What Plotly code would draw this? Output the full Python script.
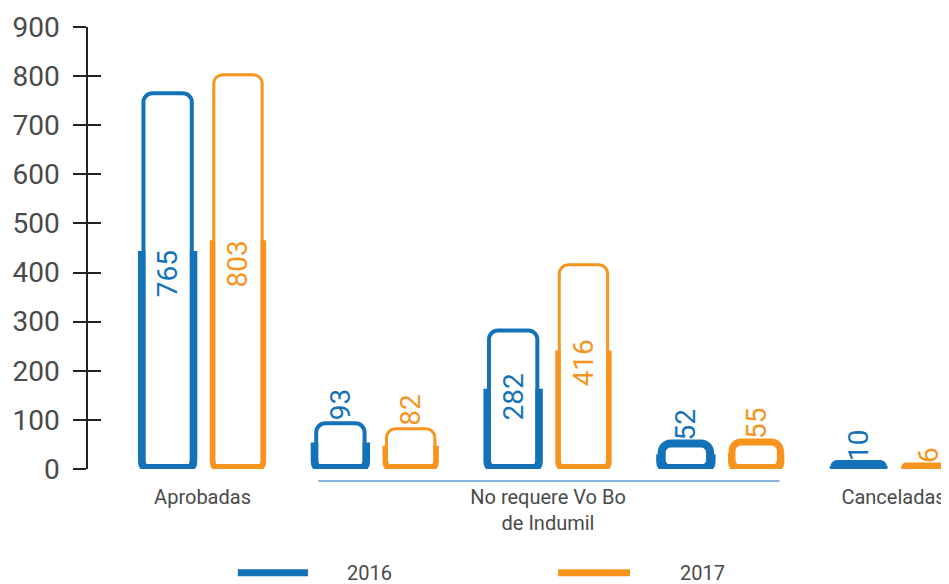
import plotly.graph_objects as go

# data
positions = [0, 1, 2, 3, 4]
values_2016 = [765, 93, 282, 52, 10]
values_2017 = [803, 82, 416, 55, 6]
tick_positions = [0, 2, 4]
tick_labels = ["Aprobadas", "No requere Vo Bo<br>de Indumil", "Canceladas"]
years = ["2016", "2017"]

BLUE = "#1372b8"
ORANGE = "#f7941e"
GREY = "#4a4a4a"
FONT = "Roboto, sans-serif"

BAR_W = 0.28
SPLIT = 0.58          # heavy stroke covers the lower part of each bar
X_PX = 172.75         # pixels per x unit
Y_PX = 900 / 442      # y units per pixel
EXTRA = 12 * Y_PX     # heavy part drawn taller, its top then masked off
DROP = 4 * Y_PX       # heavy part reaches a little below zero

fig = go.Figure()

# values, colour, offset, thin stroke, heavy stroke, outer/inner reach (px)
series = [
    (values_2016, BLUE, -0.342, 4, 8, 5.5, 2.0),
    (values_2017, ORANGE, 0.065, 3, 7, 4.0, 1.5),
]

for vals, color, off, thin, thick, o_px, i_px in series:
    o = o_px / X_PX
    i = i_px / X_PX
    mid = [v * SPLIT for v in vals]
    top_w = [thick if v < 60 else thin for v in vals]
    common = dict(x=positions, hoverinfo="skip", showlegend=False, cliponaxis=False)

    # heavy "U": starts below zero so plotly rounds its bottom corners
    fig.add_trace(go.Bar(
        y=[m + EXTRA + DROP for m in mid], base=[-DROP] * len(vals),
        width=BAR_W + 2 * o, offset=off - o,
        marker=dict(color=color, line=dict(width=0), cornerradius=11),
        **common))

    # mask over the top of the "U" so it ends square
    fig.add_trace(go.Bar(
        y=[EXTRA + Y_PX] * len(vals), base=mid,
        width=BAR_W + 2 * o + 0.02, offset=off - o - 0.01,
        marker=dict(color="white", line=dict(width=0)),
        **common))

    # white inside of the "U"
    w_top = [min(m + 4.5 * Y_PX, v - 4.5 * Y_PX) for v, m in zip(vals, mid)]
    w_bot = 5 * Y_PX
    fig.add_trace(go.Bar(
        y=[max(t - w_bot, 0) for t in w_top], base=w_bot,
        width=BAR_W - 2 * i, offset=off + i,
        marker=dict(color="white", line=dict(width=0)),
        **common))

    # outline of the whole bar, rounded at the top
    fig.add_trace(go.Bar(
        y=vals, base=0, width=BAR_W, offset=off,
        marker=dict(color="rgba(0,0,0,0)", line=dict(color=color, width=top_w),
                    cornerradius=9),
        **common))

    # value labels (inside ones sit a bit above the middle)
    fig.add_trace(go.Bar(
        y=[v * 0.96 for v in vals], base=[v * 0.04 for v in vals],
        width=BAR_W, offset=off,
        marker=dict(color="rgba(0,0,0,0)", line=dict(width=0)),
        text=[str(v) for v in vals],
        textposition=["inside" if v > 200 else "outside" for v in vals],
        textangle=-90, insidetextanchor="middle", constraintext="none",
        insidetextfont=dict(color=color, size=28, family=FONT),
        outsidetextfont=dict(color=color, size=28, family=FONT),
        **common))

# invisible trace so the inner tick marks get drawn
fig.add_trace(go.Scatter(x=[None], y=[None], yaxis="y2", showlegend=False,
                         hoverinfo="skip"))

# the page body adds an 8px margin, so the figure is 8px smaller each way
fig.update_layout(
    width=941, height=576,
    margin=dict(l=80, r=0, t=19, b=115),
    plot_bgcolor="white", paper_bgcolor="white",
    barmode="overlay",
    showlegend=False,
    font=dict(family=FONT, color=GREY),
    xaxis=dict(range=[-0.663, 4.321], tickvals=tick_positions, ticktext=tick_labels,
               ticks="", showline=False, showgrid=False, zeroline=False,
               automargin=False,
               tickfont=dict(size=20, color=GREY, family=FONT),
               ticklabelstandoff=14),
    yaxis=dict(range=[0, 900], tickvals=list(range(0, 901, 100)),
               ticks="outside", ticklen=13, tickwidth=1.5, tickcolor="#222",
               showline=True, linecolor="#222", linewidth=1.5,
               showgrid=False, zeroline=False, ticklabelstandoff=8,
               automargin=False,
               tickfont=dict(size=28, color=GREY, family=FONT)),
    yaxis2=dict(overlaying="y", anchor="x", side="left", range=[0, 900],
                tickvals=list(range(0, 901, 100)), ticks="inside", ticklen=13,
                tickwidth=1.5, tickcolor="#222", showticklabels=False,
                showgrid=False, zeroline=False, showline=False, automargin=False),
)

# light blue bracket under the middle group
fig.add_shape(type="line", xref="x", yref="paper",
              x0=positions[1] - 0.33, x1=positions[3] + 0.34, y0=-0.027, y1=-0.027,
              line=dict(color="#5b9bd5", width=1.5))

# legend drawn by hand (long line samples)
for (color, x0, x1, tx), year in zip([(BLUE, 0.174, 0.2555, 0.2985),
                                      (ORANGE, 0.546, 0.6295, 0.685)], years):
    fig.add_shape(type="line", xref="paper", yref="paper",
                  x0=x0, x1=x1, y0=-0.235, y1=-0.235,
                  line=dict(color=color, width=7))
    fig.add_annotation(xref="paper", yref="paper", x=tx, y=-0.235,
                       text=year, showarrow=False, xanchor="left", yanchor="middle",
                       font=dict(size=20, color=GREY, family=FONT))

fig.write_html("out.html")
